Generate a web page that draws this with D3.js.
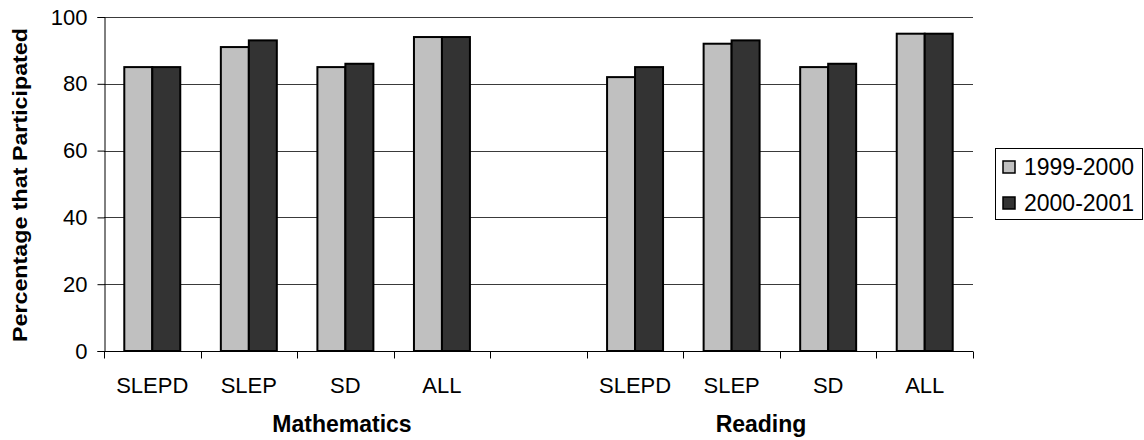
<!DOCTYPE html>
<html>
<head>
<meta charset="utf-8">
<script src="https://cdn.jsdelivr.net/npm/d3@7"></script>
<style>
  html, body { margin: 0; padding: 0; background: #fff; }
  svg { display: block; font-family: Arial, "Liberation Sans", Helvetica, sans-serif; }
</style>
</head>
<body>
<svg id="chart" width="1144" height="440"></svg>
<script>
// Participation rates by student group, two school years
const subjects = ["Mathematics", "Reading"];
const groups = ["SLEPD", "SLEP", "SD", "ALL"];
const years = ["1999-2000", "2000-2001"];
const math1999 = [85, 91, 85, 94];
const math2000 = [85, 93, 86, 94];
const read1999 = [82, 92, 85, 95];
const read2000 = [85, 93, 86, 95];
const yTicks = [0, 20, 40, 60, 80, 100];
const yTitle = "Percentage that Participated";

const colors = { "1999-2000": "#c0c0c0", "2000-2001": "#333333" };

// Category slots: four groups per subject with an empty slot between
const slots = [];
groups.forEach(g => slots.push("Mathematics|" + g));
slots.push("gap");
groups.forEach(g => slots.push("Reading|" + g));

const rows = [];
groups.forEach((g, i) => {
  rows.push({ slot: "Mathematics|" + g, year: years[0], value: math1999[i] });
  rows.push({ slot: "Mathematics|" + g, year: years[1], value: math2000[i] });
  rows.push({ slot: "Reading|" + g, year: years[0], value: read1999[i] });
  rows.push({ slot: "Reading|" + g, year: years[1], value: read2000[i] });
});

const plot = { left: 104, right: 973, top: 17, bottom: 351 };

const svg = d3.select("#chart");

const x = d3.scaleBand().domain(slots).range([plot.left, plot.right]).padding(0);
const xi = d3.scaleBand().domain(years).range([0, x.bandwidth()]).paddingInner(0).paddingOuter(0.725);
const y = d3.scaleLinear().domain([0, 100]).range([plot.bottom, plot.top]);

// Horizontal gridlines
svg.append("g")
  .selectAll("line")
  .data(yTicks.filter(t => t > 0))
  .join("line")
  .attr("x1", plot.left).attr("x2", plot.right)
  .attr("y1", d => Math.round(y(d)) + 0.5).attr("y2", d => Math.round(y(d)) + 0.5)
  .attr("stroke", "#3a3a3a").attr("stroke-width", 1);

// Y axis
const yAxis = svg.append("g")
  .attr("transform", `translate(${plot.left + 0.5},0)`)
  .call(d3.axisLeft(y).tickValues(yTicks).tickSize(7).tickPadding(10));
yAxis.select(".domain").attr("stroke", "#000");
yAxis.selectAll(".tick line").attr("stroke", "#000");
yAxis.selectAll(".tick text")
  .attr("font-size", 22).attr("fill", "#000")
  .attr("font-family", "Arial, 'Liberation Sans', sans-serif");

// Bars
svg.append("g")
  .selectAll("rect")
  .data(rows)
  .join("rect")
  .attr("x", d => x(d.slot) + xi(d.year))
  .attr("y", d => y(d.value))
  .attr("width", xi.bandwidth())
  .attr("height", d => y(0) - y(d.value))
  .attr("fill", d => colors[d.year])
  .attr("stroke", "#000")
  .attr("stroke-width", 2);

// X axis: ticks on slot boundaries, labels at slot centres
const xAxisG = svg.append("g").attr("transform", `translate(0,${plot.bottom + 0.5})`);
xAxisG.append("line")
  .attr("x1", plot.left).attr("x2", plot.right)
  .attr("stroke", "#000");
const boundaries = slots.map(s => x(s)).concat([plot.right]);
xAxisG.selectAll("line.tick")
  .data(boundaries)
  .join("line")
  .attr("class", "tick")
  .attr("x1", d => Math.round(d) + 0.5).attr("x2", d => Math.round(d) + 0.5)
  .attr("y1", 0).attr("y2", 7)
  .attr("stroke", "#000");
xAxisG.selectAll("text")
  .data(slots.filter(s => s !== "gap"))
  .join("text")
  .attr("x", d => x(d) + x.bandwidth() / 2)
  .attr("y", 41)
  .attr("text-anchor", "middle")
  .attr("font-size", 22)
  .attr("fill", "#000")
  .text(d => d.split("|")[1]);

// Subject titles under the axis
const subjectX = { "Mathematics": 342, "Reading": 761 };
svg.append("g")
  .selectAll("text")
  .data(subjects)
  .join("text")
  .attr("x", d => subjectX[d])
  .attr("y", 432)
  .attr("text-anchor", "middle")
  .attr("font-size", 23)
  .attr("font-weight", "bold")
  .attr("fill", "#000")
  .text(d => d);

// Y axis title
svg.append("text")
  .attr("transform", `translate(27,185) rotate(-90)`)
  .attr("text-anchor", "middle")
  .attr("font-size", 20)
  .attr("font-weight", "bold")
  .attr("fill", "#000")
  .attr("textLength", 314)
  .attr("lengthAdjust", "spacingAndGlyphs")
  .text(yTitle);

// Legend
const legend = svg.append("g");
legend.append("rect")
  .attr("x", 995.5).attr("y", 148.5)
  .attr("width", 147).attr("height", 71)
  .attr("fill", "#fff").attr("stroke", "#000").attr("stroke-width", 1);
const items = legend.selectAll("g.item")
  .data(years)
  .join("g")
  .attr("class", "item")
  .attr("transform", (d, i) => `translate(1003,${167 + i * 36})`);
items.append("rect")
  .attr("x", 0).attr("y", -6)
  .attr("width", 12).attr("height", 12)
  .attr("fill", d => colors[d])
  .attr("stroke", "#000").attr("stroke-width", 1.5);
items.append("text")
  .attr("x", 21).attr("y", 8)
  .attr("font-size", 23)
  .attr("fill", "#000")
  .text(d => d);
</script>
</body>
</html>
